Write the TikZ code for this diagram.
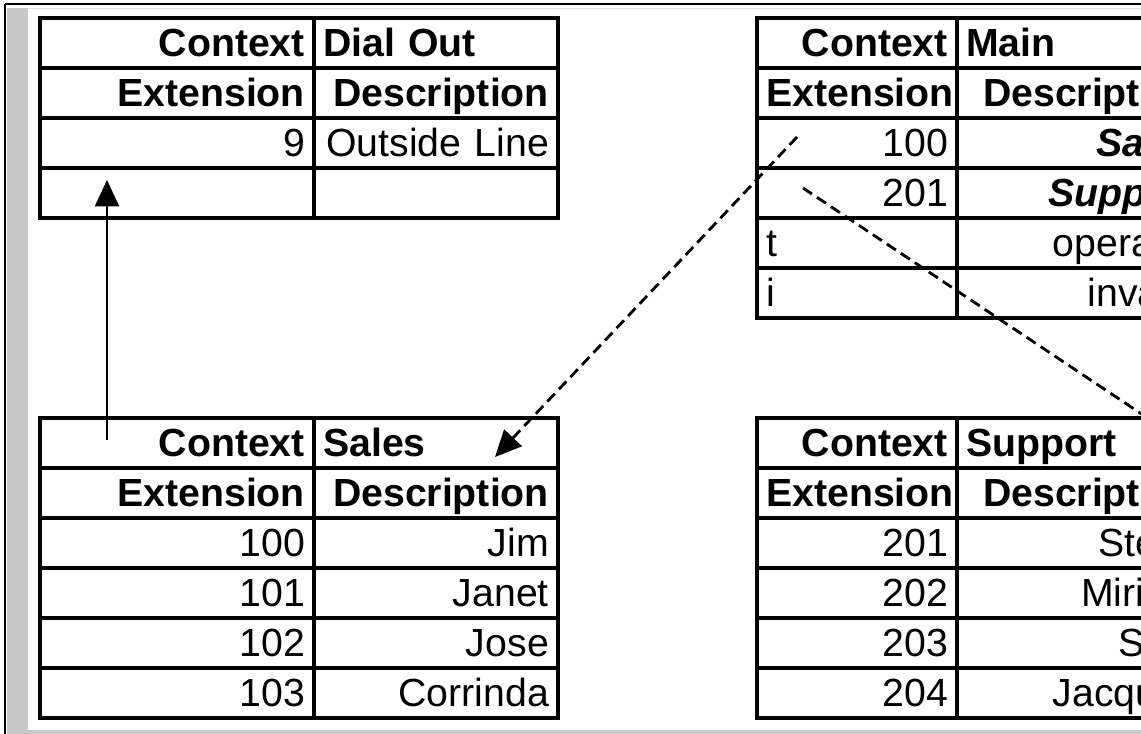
\documentclass[tikz,border=0pt]{standalone}
\usepackage{fontspec}
\setmainfont{Liberation Sans}
\usepackage{tikz}
\usetikzlibrary{arrows.meta}
\usepackage{xcolor}
\definecolor{framegrey}{RGB}{200,200,200}
\definecolor{framegreylight}{RGB}{222,222,222}
\newcommand{\tabfont}{\fontsize{27.9}{33}\selectfont}

\begin{document}
\begin{tikzpicture}[x=0.025cm, y=-0.025cm, font=\tabfont,
    cell/.style={draw, line width=2.4pt, anchor=north west, outer sep=0pt,
                 inner xsep=0.23cm, inner ysep=0pt, minimum height=1.25cm,
                 text height=0.65cm, text depth=0pt, align=right},
    extL/.style={cell, text width=6.39cm},
    descL/.style={cell, text width=5.64cm},
    extR/.style={cell, text width=4.54cm},
    descR/.style={cell, text width=5.815cm},
    hd/.style={font=\tabfont\bfseries},
    link/.style={line width=2pt, -{Triangle[length=0.66cm,width=0.6cm]}},
    dlink/.style={link, dash pattern=on 0.27cm off 0.15cm}]
\useasboundingbox (0,0) rectangle (1141,734);
\clip (0,0) rectangle (1141,734);
% frame of the window
\fill[framegrey] (7,8) rectangle (28,734);
\fill[framegrey] (7,730) rectangle (1141,734);
\draw[framegreylight, line width=0.8pt] (28,8.5) -- (1141,8.5);
\draw[line width=1.7pt] (5,4) -- (1141,4);
\draw[line width=1.7pt] (5,4) -- (5,734);

% context Dial Out
\node[extL, hd] (dial-ctx) at (40,18) {Context};
\node[descL, hd, align=left] (dial-name) at (314,18) {Dial Out};
\node[extL, hd] (dial-exth) at (40,68) {Extension};
\node[descL, hd] (dial-desch) at (314,68) {Description};
\node[extL] (dial-e1) at (40,118) {9};
\node[descL] (dial-d1) at (314,118) {Outside Line};
\node[extL] (dial-e2) at (40,168) {};
\node[descL] (dial-d2) at (314,168) {};

% context Sales
\node[extL, hd] (sales-ctx) at (40,418) {Context};
\node[descL, hd, align=left] (sales-name) at (314,418) {Sales};
\node[extL, hd] (sales-exth) at (40,468) {Extension};
\node[descL, hd] (sales-desch) at (314,468) {Description};
\foreach \ext/\who [count=\i] in {100/Jim,101/Janet,102/Jose,103/Corrinda} {
    \node[extL] (sales-e\i) at (40,{468+50*\i}) {\ext};
    \node[descL] (sales-d\i) at (314,{468+50*\i}) {\who};
}

% context Main
\node[extR, hd] (main-ctx) at (757,18) {Context};
\node[descR, hd, align=left] (main-name) at (957,18) {Main};
\node[extR, hd] (main-exth) at (757,68) {Extension};
\node[descR, hd] (main-desch) at (957,68) {Description};
\node[extR] (main-e1) at (757,118) {100};
\node[descR, font=\tabfont\bfseries\itshape] (main-d1) at (957,118) {Sales};
\node[extR] (main-e2) at (757,168) {201};
\node[descR, font=\tabfont\bfseries\itshape] (main-d2) at (957,168) {Support};
\node[extR, align=left] (main-e3) at (757,218) {t};
\node[descR] (main-d3) at (957,218) {operator};
\node[extR, align=left] (main-e4) at (757,268) {i};
\node[descR] (main-d4) at (957,268) {invalid};

% context Support
\node[extR, hd] (support-ctx) at (757,418) {Context};
\node[descR, hd, align=left] (support-name) at (957,418) {Support};
\node[extR, hd] (support-exth) at (757,468) {Extension};
\node[descR, hd] (support-desch) at (957,468) {Description};
\foreach \ext/\who [count=\i] in {201/Steve,202/Miriam,203/Sam,204/Jacques} {
    \node[extR] (support-e\i) at (757,{468+50*\i}) {\ext};
    \node[descR] (support-d\i) at (957,{468+50*\i}) {\who};
}

% links between contexts
\coordinate (out-from) at ([shift={(67,22)}]sales-ctx.north west);
\coordinate (out-to) at ([shift={(67,12)}]dial-e2.north west);
\coordinate (sales-from) at ([shift={(40,19)}]main-e1.north west);
\coordinate (sales-to) at ([shift={(181,39)}]sales-name.north west);
\coordinate (support-from) at ([shift={(46,20)}]main-e2.north west);
\coordinate (support-to) at ([shift={(228,25)}]support-name.north west);
\draw[link] (out-from) -- (out-to);
\draw[dlink] (sales-from) -- (sales-to);
\draw[dlink] (support-from) -- (support-to);
\end{tikzpicture}
\end{document}
